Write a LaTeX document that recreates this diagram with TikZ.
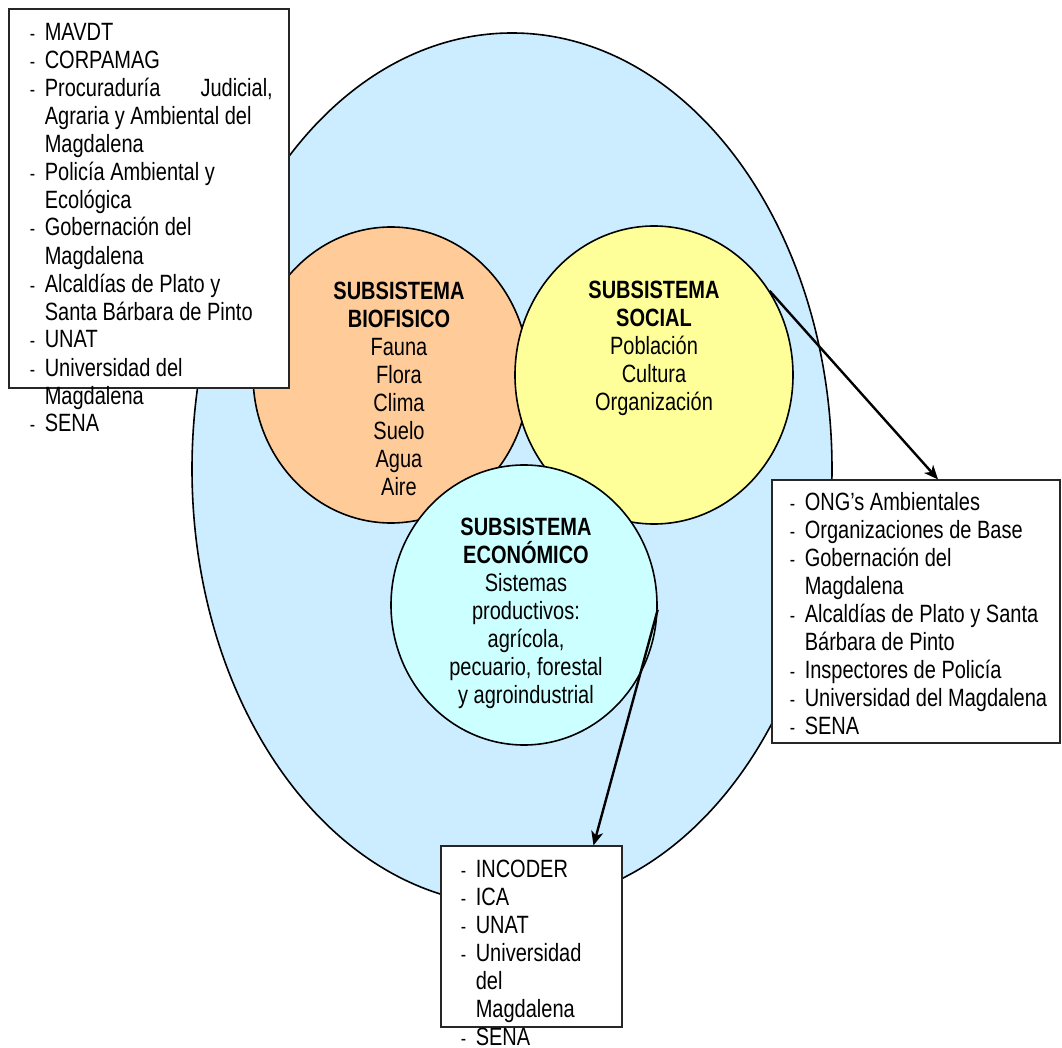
\documentclass[tikz,border=0pt]{standalone}
\usepackage{fontspec}
\setmainfont{Liberation Sans}[FakeStretch=0.8]
\usepackage{tikz}
\usetikzlibrary{shapes.geometric,positioning,arrows.meta}
\definecolor{azulfondo}{HTML}{CCECFF}
\definecolor{naranja}{HTML}{FFCC99}
\definecolor{amarillo}{HTML}{FFFF99}
\definecolor{celeste}{HTML}{CCFFFF}
\tikzset{
  >={Stealth[length=7pt, width=6pt, inset=2pt]},
  circulo/.style={draw, ellipse, line width=0.8pt, inner sep=0pt},
  rotulo/.style={align=center, inner sep=0pt, font=\fontsize{12.5}{14}\selectfont},
  caja/.style={draw=black!85, fill=white, rectangle, line width=0.6pt, inner sep=0pt},
  lista/.style={align=left, inner sep=0pt, font=\fontsize{12.5}{14}\selectfont},
}
\newcommand{\guion}{\makebox[7.5pt][l]{\scalebox{0.8}{-}}}
\newcommand{\sigue}{\hspace*{7.5pt}}

\begin{document}
\begin{tikzpicture}[x=0.5pt, y=-0.5pt]
    \useasboundingbox (0,0) rectangle (1062,1048);
    \node[circulo, fill=azulfondo, minimum width=320pt, minimum height=436pt] (entorno) at (512,469) {};
    \node[circulo, fill=naranja, minimum width=138pt, minimum height=148pt] (biofisico) at (391,375) {};
    \node[circulo, fill=amarillo, minimum width=139pt, minimum height=149pt] (social) [right of=biofisico, node distance=131.5pt] {};
    \node[circulo, fill=celeste, minimum width=133pt, minimum height=140pt] (economico) at (524,605) {};

    \node[rotulo] (txtBio) [below=27.5pt of biofisico.north, xshift=4pt]
      {\textbf{SUBSISTEMA}\\\textbf{BIOFISICO}\\Fauna\\Flora\\Clima\\Suelo\\Agua\\Aire};
    \node[rotulo] (txtSoc) [below=27.5pt of social.north]
      {\textbf{SUBSISTEMA}\\\textbf{SOCIAL}\\Población\\Cultura\\Organización};
    \node[rotulo] (txtEco) [below=26.5pt of economico.north, xshift=1pt]
      {\textbf{SUBSISTEMA}\\\textbf{ECONÓMICO}\\Sistemas\\productivos:\\agrícola,\\pecuario, forestal\\y agroindustrial};

    \node[caja, minimum width=140pt, minimum height=189.5pt] (cajaAmb) at (149,198.5) {};
    \node[lista] (listaAmb) [below right=7pt and 10.5pt of cajaAmb.north west]
      {\guion MAVDT\\
       \guion CORPAMAG\\
       \guion\makebox[114pt][s]{Procuraduría\hfill Judicial,}\\
       \sigue Agraria y Ambiental del\\
       \sigue Magdalena\\
       \guion Policía Ambiental y\\
       \sigue Ecológica\\
       \guion Gobernación del\\
       \sigue Magdalena\\
       \guion Alcaldías de Plato y\\
       \sigue Santa Bárbara de Pinto\\
       \guion UNAT\\
       \guion Universidad del\\
       \sigue Magdalena\\
       \guion SENA};

    \node[caja, minimum width=144pt, minimum height=131.5pt] (cajaSoc) at (916,611.5) {};
    \node[lista] (listaSoc) [below right=6.5pt and 9pt of cajaSoc.north west]
      {\guion ONG’s Ambientales\\
       \guion Organizaciones de Base\\
       \guion Gobernación del\\
       \sigue Magdalena\\
       \guion Alcaldías de Plato y Santa\\
       \sigue Bárbara de Pinto\\
       \guion Inspectores de Policía\\
       \guion Universidad del Magdalena\\
       \guion SENA};

    \node[caja, minimum width=90.5pt, minimum height=90.5pt] (cajaEco) at (531.5,936.5) {};
    \node[lista] (listaEco) [below right=7pt and 10pt of cajaEco.north west]
      {\guion INCODER\\
       \guion ICA\\
       \guion UNAT\\
       \guion Universidad\\
       \sigue del\\
       \sigue Magdalena\\
       \guion SENA};

    \draw[->, line width=1.2pt] (social.36) -- ([xshift=11pt]cajaSoc.north);
    \draw[->, line width=1.2pt] (economico.358) -- ([xshift=31pt]cajaEco.north);
  \end{tikzpicture}
\end{document}
